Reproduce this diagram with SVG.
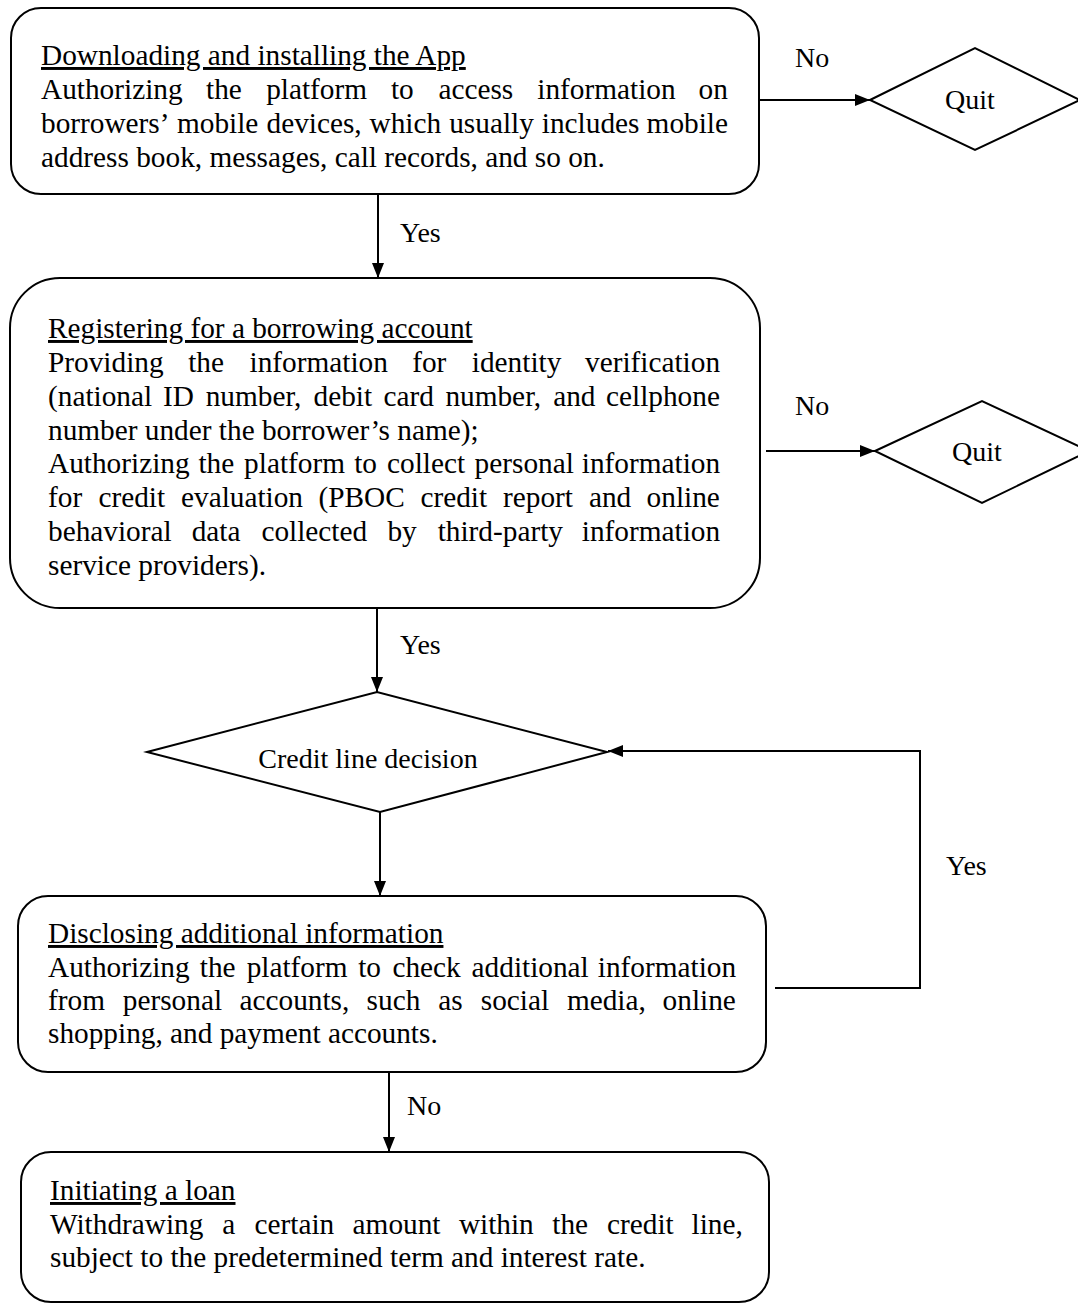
<svg xmlns="http://www.w3.org/2000/svg" width="1078" height="1305" viewBox="0 0 1078 1305">
<style>
  .box { fill: #ffffff; stroke: #000000; stroke-width: 2; }
  .dia { fill: #ffffff; stroke: #000000; stroke-width: 2; }
  .t { font-family: "Liberation Serif", "Times New Roman", serif; font-size: 29.3px; fill: #000000; }
  .lbl { font-family: "Liberation Serif", "Times New Roman", serif; font-size: 28px; fill: #000000; }
  .u { text-decoration: underline; }
  .c { text-anchor: middle; }
  .edge { fill: none; stroke: #000000; stroke-width: 2; }
</style>
<defs>
  <marker id="arr" viewBox="0 0 15 12" markerWidth="15" markerHeight="12" refX="15" refY="6" orient="auto" markerUnits="userSpaceOnUse">
    <path d="M0,0 L15,6 L0,12 z" fill="#000000"/>
  </marker>
</defs>
<rect width="1078" height="1305" fill="#ffffff"/>

<g id="connectors">
  <line class="edge" x1="378" y1="194" x2="378" y2="278" marker-end="url(#arr)"/>
  <line class="edge" x1="760" y1="100" x2="870" y2="100" marker-end="url(#arr)"/>
  <line class="edge" x1="766" y1="451" x2="875" y2="451" marker-end="url(#arr)"/>
  <line class="edge" x1="377" y1="608" x2="377" y2="692" marker-end="url(#arr)"/>
  <line class="edge" x1="380" y1="812" x2="380" y2="896" marker-end="url(#arr)"/>
  <polyline class="edge" points="775,988 920,988 920,751 608,751" marker-end="url(#arr)"/>
  <line class="edge" x1="389" y1="1072" x2="389" y2="1152" marker-end="url(#arr)"/>
  <text class="lbl" x="400" y="242">Yes</text>
  <text class="lbl" x="795" y="67">No</text>
  <text class="lbl" x="795" y="415">No</text>
  <text class="lbl" x="400" y="654">Yes</text>
  <text class="lbl" x="946" y="875">Yes</text>
  <text class="lbl" x="407" y="1115">No</text>
</g>

<g id="node-download">
  <rect class="box" x="11" y="8" width="748" height="186" rx="30" ry="30"/>
  <text class="t u" x="41" y="65">Downloading and installing the App</text>
  <text class="t" y="99"><tspan x="41">Authorizing</tspan><tspan x="206">the</tspan><tspan x="266.2">platform</tspan><tspan x="390.9">to</tspan><tspan x="438.4">access</tspan><tspan x="537.3">information</tspan><tspan x="698.5">on</tspan></text>
  <text class="t" y="133"><tspan x="41">borrowers’</tspan><tspan x="177">mobile</tspan><tspan x="266.5">devices,</tspan><tspan x="369.5">which</tspan><tspan x="449.2">usually</tspan><tspan x="541.8">includes</tspan><tspan x="646.6">mobile</tspan></text>
  <text class="t" x="41" y="167">address book, messages, call records, and so on.</text>
</g>

<g id="node-quit1">
  <polygon class="dia" points="870,100 975,48 1080,100 975,150"/>
  <text class="lbl c" x="970" y="109">Quit</text>
</g>

<g id="node-register">
  <rect class="box" x="10" y="278" width="750" height="330" rx="50" ry="50"/>
  <text class="t u" x="48" y="338">Registering for a borrowing account</text>
  <text class="t" y="372"><tspan x="48">Providing</tspan><tspan x="188.2">the</tspan><tspan x="249.5">information</tspan><tspan x="412.2">for</tspan><tspan x="471.8">identity</tspan><tspan x="585">verification</tspan></text>
  <text class="t" y="405.5"><tspan x="48">(national</tspan><tspan x="163.1">ID</tspan><tspan x="205.7">number,</tspan><tspan x="313.5">debit</tspan><tspan x="383.5">card</tspan><tspan x="445.4">number,</tspan><tspan x="553.2">and</tspan><tspan x="606">cellphone</tspan></text>
  <text class="t" x="48" y="439.5">number under the borrower’s name);</text>
  <text class="t" y="473"><tspan x="48">Authorizing</tspan><tspan x="198.4">the</tspan><tspan x="244.1">platform</tspan><tspan x="354.2">to</tspan><tspan x="387">collect</tspan><tspan x="474.6">personal</tspan><tspan x="581.8">information</tspan></text>
  <text class="t" y="507"><tspan x="48">for</tspan><tspan x="98.4">credit</tspan><tspan x="181">evaluation</tspan><tspan x="318.4">(PBOC</tspan><tspan x="420.4">credit</tspan><tspan x="503">report</tspan><tspan x="588.9">and</tspan><tspan x="646.6">online</tspan></text>
  <text class="t" y="541"><tspan x="48">behavioral</tspan><tspan x="191.7">data</tspan><tspan x="261.4">collected</tspan><tspan x="387.4">by</tspan><tspan x="437.7">third-party</tspan><tspan x="581.8">information</tspan></text>
  <text class="t" x="48" y="575">service providers).</text>
</g>

<g id="node-quit2">
  <polygon class="dia" points="875,451 982,401 1089,451 982,503"/>
  <text class="lbl c" x="977" y="461">Quit</text>
</g>

<g id="node-decision">
  <polygon class="dia" points="147,752 377,692 607,752 380,812"/>
  <text class="lbl c" x="368" y="768">Credit line decision</text>
</g>

<g id="node-disclose">
  <rect class="box" x="18" y="896" width="748" height="176" rx="30" ry="30"/>
  <text class="t u" x="48" y="943">Disclosing additional information</text>
  <text class="t" y="977"><tspan x="48">Authorizing</tspan><tspan x="199.8">the</tspan><tspan x="246.7">platform</tspan><tspan x="358.2">to</tspan><tspan x="392.4">check</tspan><tspan x="471.6">additional</tspan><tspan x="597.8">information</tspan></text>
  <text class="t" y="1010"><tspan x="48">from</tspan><tspan x="122.8">personal</tspan><tspan x="239.5">accounts,</tspan><tspan x="366.6">such</tspan><tspan x="438.2">as</tspan><tspan x="480.8">social</tspan><tspan x="566.9">media,</tspan><tspan x="662.6">online</tspan></text>
  <text class="t" x="48" y="1043">shopping, and payment accounts.</text>
</g>

<g id="node-loan">
  <rect class="box" x="21" y="1152" width="748" height="150" rx="30" ry="30"/>
  <text class="t u" x="50" y="1200">Initiating a loan</text>
  <text class="t" y="1234"><tspan x="50">Withdrawing</tspan><tspan x="222.3">a</tspan><tspan x="254.5">certain</tspan><tspan x="352.6">amount</tspan><tspan x="458.9">within</tspan><tspan x="552.3">the</tspan><tspan x="607">credit</tspan><tspan x="691.6">line,</tspan></text>
  <text class="t" x="50" y="1267">subject to the predetermined term and interest rate.</text>
</g>
</svg>
